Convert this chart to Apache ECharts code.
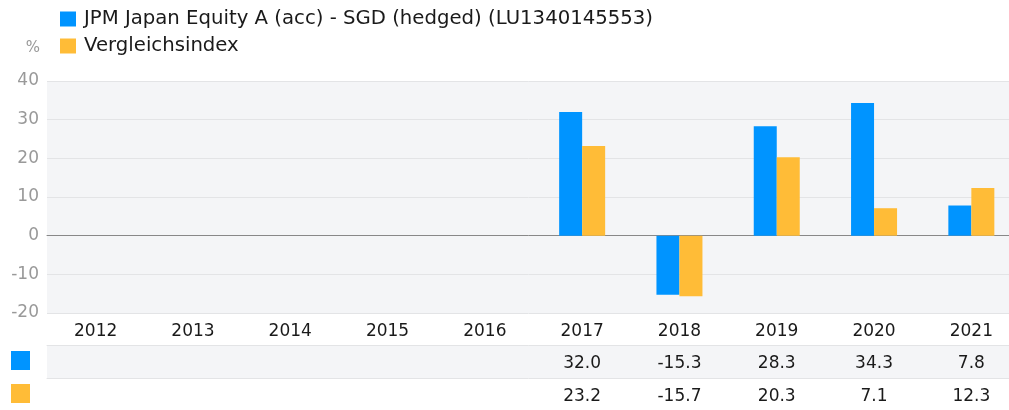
<!DOCTYPE html>
<html>
<head>
<meta charset="UTF-8">
<title>JPM Japan Equity</title>
<style>
  * { margin: 0; padding: 0; }
  html, body { background: #fff; }
  #chart { width: 1009px; height: 410px; }
</style>
</head>
<body>
<div id="chart"></div>
<script src="https://cdn.jsdelivr.net/npm/echarts@6/dist/echarts.min.js"></script>
<script>
var years = ['2012', '2013', '2014', '2015', '2016', '2017', '2018', '2019', '2020', '2021'];
var fundName = 'JPM Japan Equity A (acc) - SGD (hedged) (LU1340145553)';
var indexName = 'Vergleichsindex';
var fundValues = [null, null, null, null, null, 32.0, -15.3, 28.3, 34.3, 7.8];
var indexValues = [null, null, null, null, null, 23.2, -15.7, 20.3, 7.1, 12.3];
var yTicks = [-20, -10, 0, 10, 20, 30, 40];

var blue = '#0094ff';
var yellow = '#ffbc37';
var font = '"DejaVu Sans", sans-serif';

// table rows: points sit in the middle of each row, value shown as label
function rowData(values) {
  var out = [];
  for (var i = 0; i < values.length; i++) {
    if (values[i] !== null) out.push([i, 0, values[i]]);
  }
  return out;
}

function tableRow(idx, values) {
  return {
    type: 'scatter',
    xAxisIndex: idx,
    yAxisIndex: idx,
    symbolSize: 0,
    silent: true,
    itemStyle: { opacity: 1 },
    data: rowData(values),
    label: {
      show: true,
      position: 'inside',
      offset: [0, 2],
      color: '#1a1a1a',
      fontFamily: font,
      fontSize: 17,
      formatter: function (p) { return p.value[2].toFixed(1); }
    }
  };
}

function bar(name, values, color) {
  return {
    name: name,
    type: 'bar',
    barWidth: 23,
    barGap: 0,
    itemStyle: { color: color },
    data: values.map(function (v) { return v === null ? '-' : v; })
  };
}

function tableAxis(idx) {
  return {
    gridIndex: idx, type: 'category', data: years, position: 'top',
    axisLine: { show: true, onZero: false, lineStyle: { color: '#e3e4e6' } },
    axisTick: { show: false }, axisLabel: { show: false }
  };
}

var chart = echarts.init(document.getElementById('chart'));
chart.setOption({
  animation: false,
  textStyle: { fontFamily: font },
  legend: {
    orient: 'vertical',
    left: 55,
    top: 4,
    icon: 'rect',
    itemWidth: 16,
    itemHeight: 15,
    itemGap: 7,
    selectedMode: false,
    textStyle: { color: '#1a1a1a', fontSize: 19.7, fontFamily: font, padding: [0, 0, 0, 3] },
    data: [fundName, indexName]
  },
  grid: [
    { left: 47, width: 973, top: 81, height: 232, outerBoundsMode: 'none', show: true, backgroundColor: '#f4f5f7', borderWidth: 0 },
    { left: 47, width: 973, top: 345, height: 33, outerBoundsMode: 'none', show: true, backgroundColor: '#f4f5f7', borderWidth: 0 },
    { left: 47, width: 973, top: 378, height: 33, outerBoundsMode: 'none', show: false }
  ],
  xAxis: [
    {
      gridIndex: 0, type: 'category', data: years,
      axisLine: { onZero: true, lineStyle: { color: '#888', width: 1 } },
      axisTick: { show: false },
      axisLabel: { color: '#1a1a1a', fontSize: 17, fontFamily: font, margin: 10 }
    },
    tableAxis(1),
    tableAxis(2)
  ],
  yAxis: [
    {
      gridIndex: 0, type: 'value', min: yTicks[0], max: yTicks[yTicks.length - 1], interval: 10,
      name: '%',
      nameLocation: 'end',
      nameGap: 25,
      nameTextStyle: { color: '#999', fontSize: 15, fontFamily: font, align: 'right', padding: [0, 7, 0, 0] },
      axisLine: { show: false },
      axisTick: { show: false },
      axisLabel: { color: '#999', fontSize: 17, fontFamily: font, margin: 8, padding: [5, 0, 0, 0] },
      splitLine: { lineStyle: { color: '#e3e4e6', width: 1 } }
    },
    { gridIndex: 1, type: 'value', min: -1, max: 1, show: false },
    { gridIndex: 2, type: 'value', min: -1, max: 1, show: false }
  ],
  graphic: [
    { type: 'rect', left: 11, top: 351, shape: { width: 19, height: 19 }, style: { fill: blue } },
    { type: 'rect', left: 11, top: 384, shape: { width: 19, height: 19 }, style: { fill: yellow } }
  ],
  series: [
    bar(fundName, fundValues, blue),
    bar(indexName, indexValues, yellow),
    tableRow(1, fundValues),
    tableRow(2, indexValues)
  ]
});
</script>
</body>
</html>
